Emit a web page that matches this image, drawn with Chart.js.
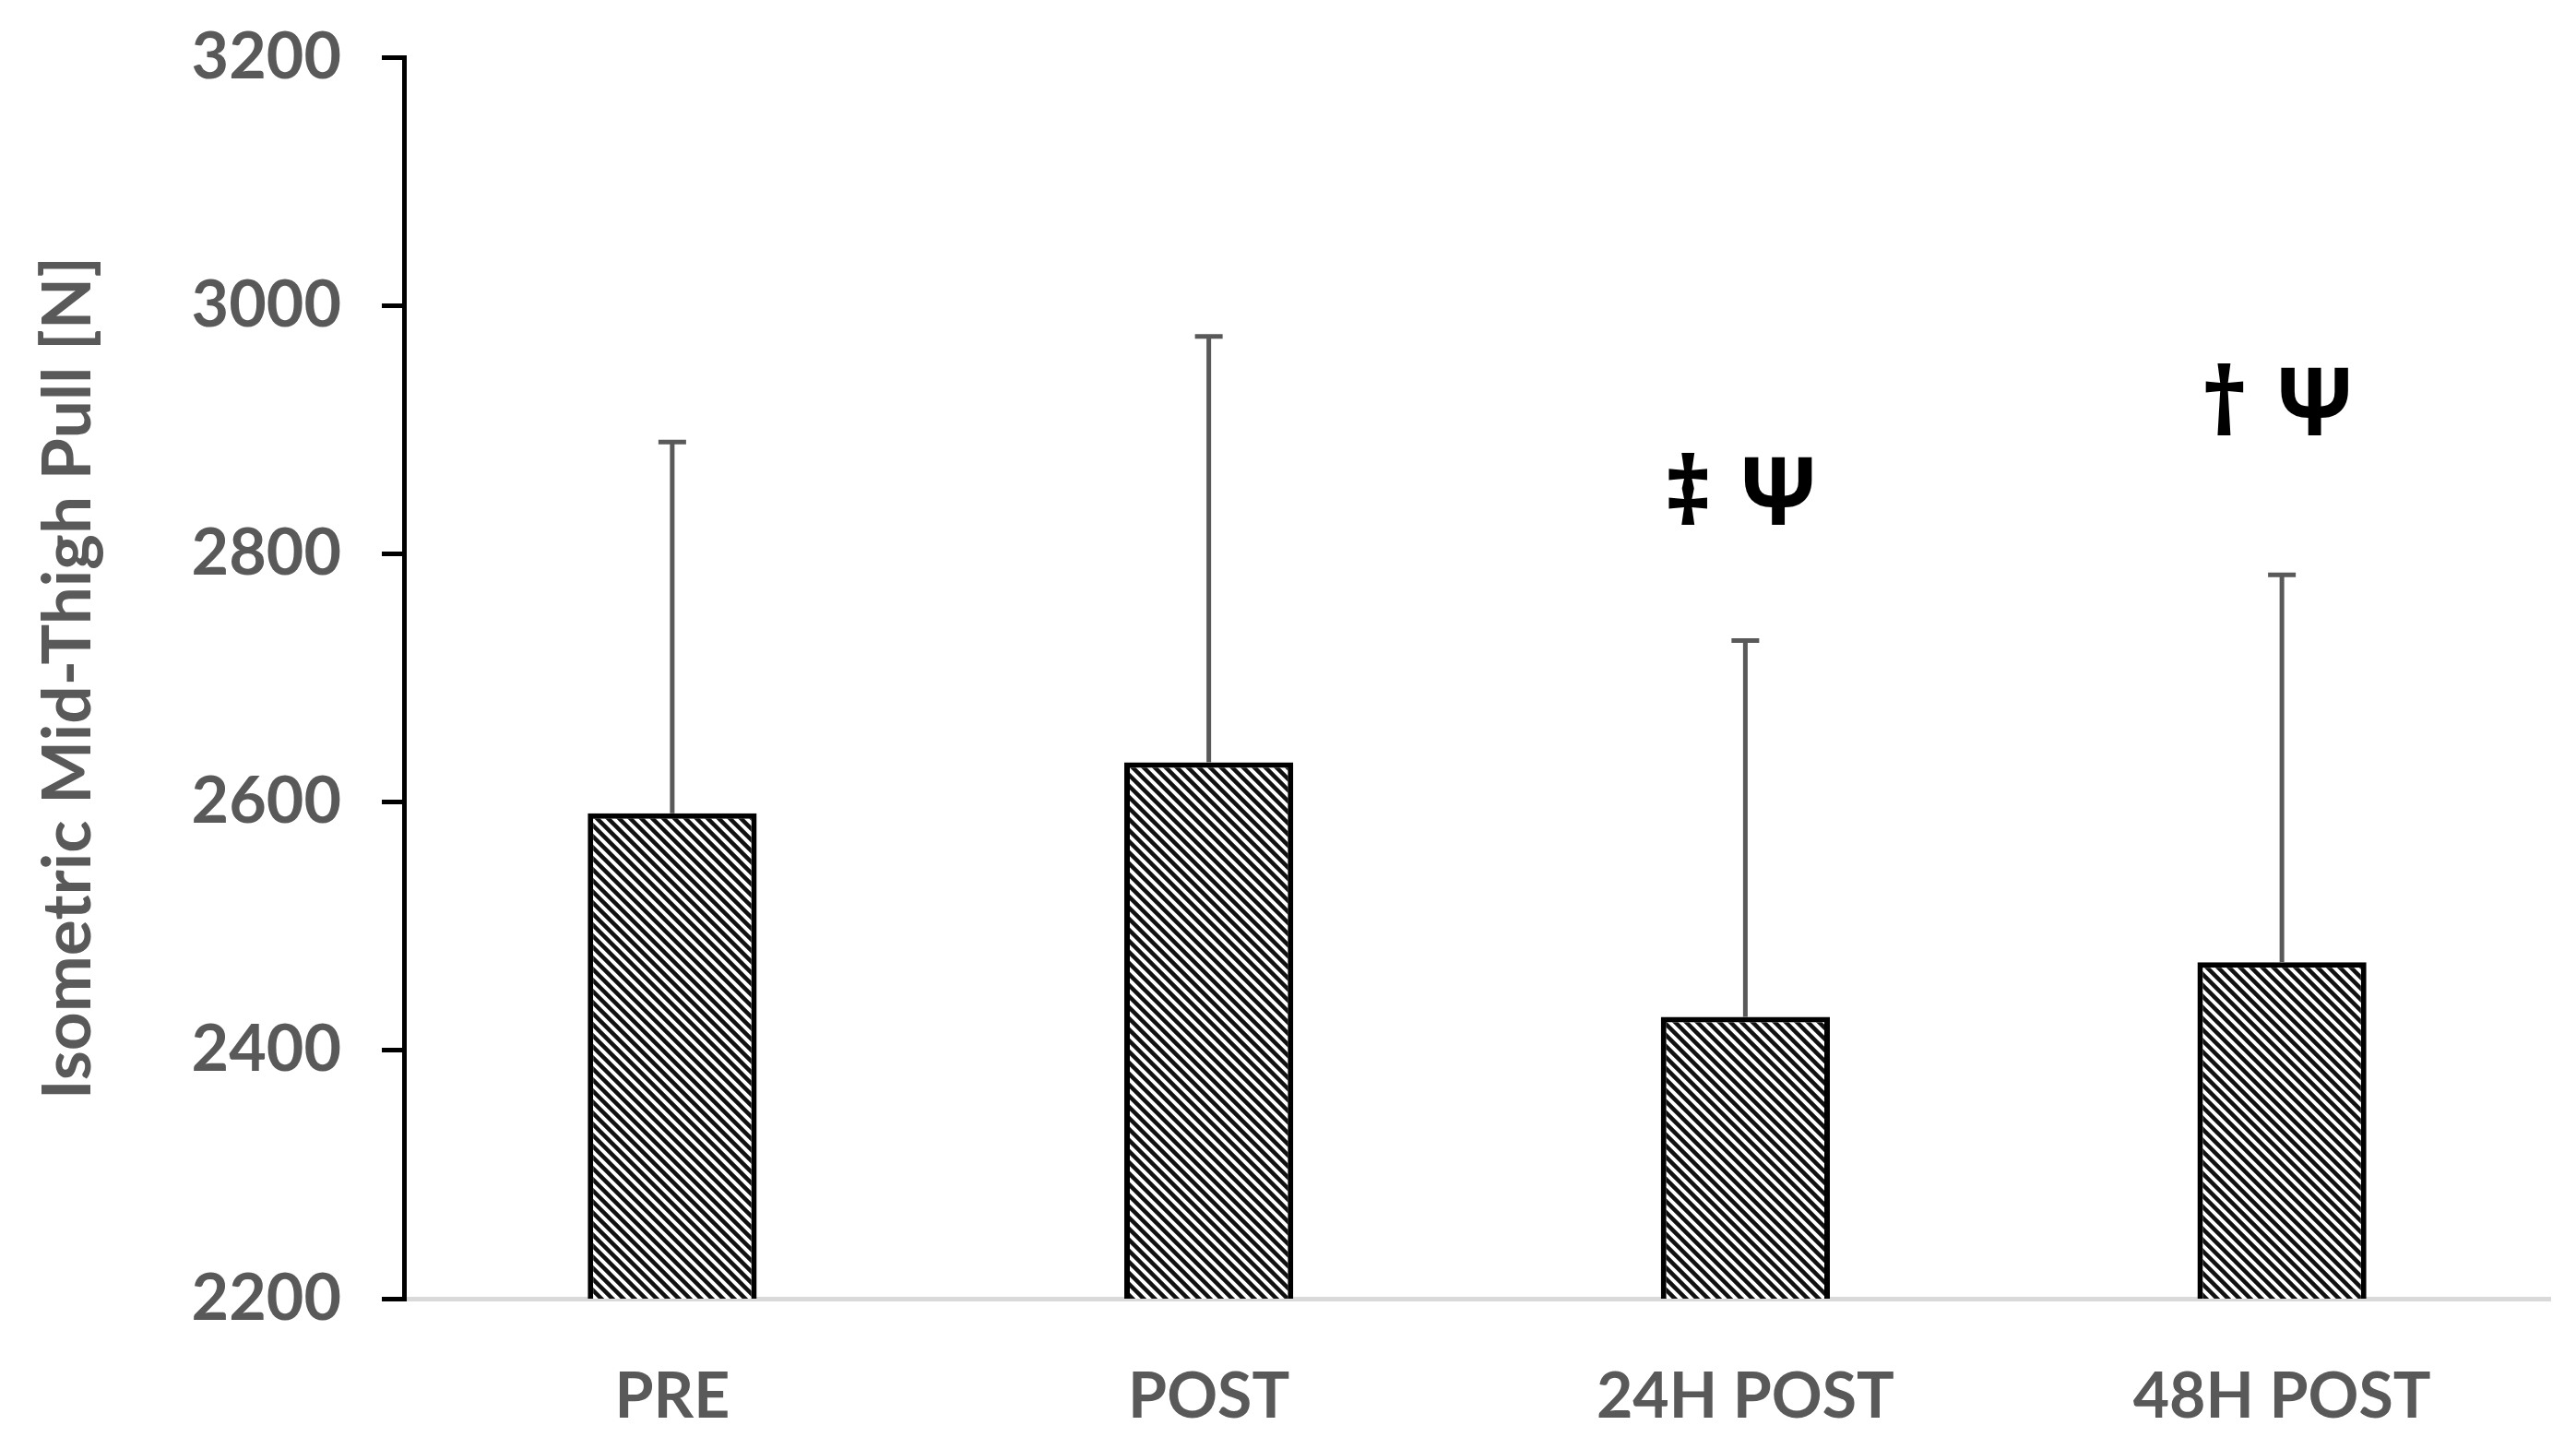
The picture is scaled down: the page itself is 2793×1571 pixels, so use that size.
<!DOCTYPE html>
<html>
<head>
<meta charset="utf-8">
<script src="https://cdn.jsdelivr.net/npm/chart.js@4"></script>
<style>
  html, body { margin: 0; padding: 0; background: #fff; }
  #wrap { width: 2793px; height: 1571px; }
</style>
</head>
<body>
<div id="wrap"><canvas id="mtpChart"></canvas></div>
<script>
// Data
const categories = ["PRE", "POST", "24H POST", "48H POST"];
const meanForce = [2591, 2632, 2427, 2471];
const errorTop = [2890, 2975, 2730, 2783];
const markText = ["", "", "\u2021 \u03A8", "\u2020 \u03A8"];
const markValue = [null, null, 2845, 2917];
const yTicks = [2200, 2400, 2600, 2800, 3000, 3200];

const gray = "#595959";

// Hatch pattern (downward diagonal)
function makeHatch() {
  const size = 12;
  const c = document.createElement("canvas");
  c.width = size;
  c.height = size;
  const g = c.getContext("2d");
  g.fillStyle = "#fff";
  g.fillRect(0, 0, size, size);
  g.strokeStyle = "#111";
  g.lineWidth = 4.5;
  g.beginPath();
  g.moveTo(-size, -size);
  g.lineTo(size * 2, size * 2);
  g.moveTo(0, -size);
  g.lineTo(size * 2, size);
  g.moveTo(-size, 0);
  g.lineTo(size, size * 2);
  g.stroke();
  return g.createPattern(c, "repeat");
}

// Error bars (upper only)
const errorBars = {
  id: "errorBars",
  afterDatasetsDraw(chart) {
    const ctx = chart.ctx;
    const meta = chart.getDatasetMeta(0);
    const y = chart.scales.y;
    ctx.save();
    ctx.strokeStyle = gray;
    ctx.lineWidth = 5;
    meta.data.forEach((bar, i) => {
      const top = y.getPixelForValue(errorTop[i]);
      const base = y.getPixelForValue(meanForce[i]);
      ctx.beginPath();
      ctx.moveTo(bar.x, base);
      ctx.lineTo(bar.x, top);
      ctx.moveTo(bar.x - 15, top);
      ctx.lineTo(bar.x + 15, top);
      ctx.stroke();
    });
    ctx.restore();
  }
};

// Significance marks
const sigMarks = {
  id: "sigMarks",
  afterDatasetsDraw(chart) {
    const ctx = chart.ctx;
    const x = chart.scales.x;
    const y = chart.scales.y;
    ctx.save();
    ctx.fillStyle = "#000";
    ctx.font = "bold 102px 'Noto Sans'";
    ctx.textAlign = "center";
    ctx.textBaseline = "middle";
    markText.forEach((t, i) => {
      if (!t) return;
      ctx.fillText(t, x.getPixelForValue(i) - 4, y.getPixelForValue(markValue[i]));
    });
    ctx.restore();
  }
};

const ctx = document.getElementById("mtpChart").getContext("2d");

new Chart(ctx, {
  type: "bar",
  data: {
    labels: categories,
    datasets: [
      {
        data: meanForce,
        backgroundColor: makeHatch(),
        borderColor: "#000",
        borderWidth: 6,
        borderSkipped: "bottom",
        categoryPercentage: 1,
        barPercentage: 0.315,
      },
    ],
  },
  options: {
    responsive: true,
    maintainAspectRatio: false,
    animation: false,
    layout: { padding: { top: 62, right: 28, left: 0, bottom: 0 } },
    plugins: {
      legend: { display: false },
      tooltip: { enabled: false },
    },
    scales: {
      x: {
        grid: { display: false, drawTicks: false },
        border: { display: true, color: "#d9d9d9", width: 5 },
        ticks: {
          color: gray,
          font: { family: "Lato", weight: "bold", size: 68 },
          padding: 66,
        },
        afterFit(scale) {
          scale.height = 163;
        },
      },
      y: {
        min: 2200,
        max: 3200,
        afterBuildTicks(scale) {
          scale.ticks = yTicks.map((v) => ({ value: v }));
        },
        grid: {
          drawOnChartArea: false,
          color: "#000",
          lineWidth: 5,
          tickLength: 24,
        },
        border: { display: true, color: "#000", width: 5 },
        ticks: {
          color: gray,
          font: { family: "Lato", weight: "bold", size: 70 },
          padding: 44,
          callback: (v) => String(v),
        },
        title: {
          display: true,
          text: "Isometric Mid-Thigh Pull [N]",
          color: gray,
          font: { family: "Lato", weight: "bold", size: 73 },
          padding: { top: 31, bottom: 0 },
        },
        afterFit(scale) {
          scale.width = 438;
          scale.paddingTop = 0;
          scale.paddingBottom = 0;
        },
      },
    },
  },
  plugins: [errorBars, sigMarks],
});
</script>
</body>
</html>
